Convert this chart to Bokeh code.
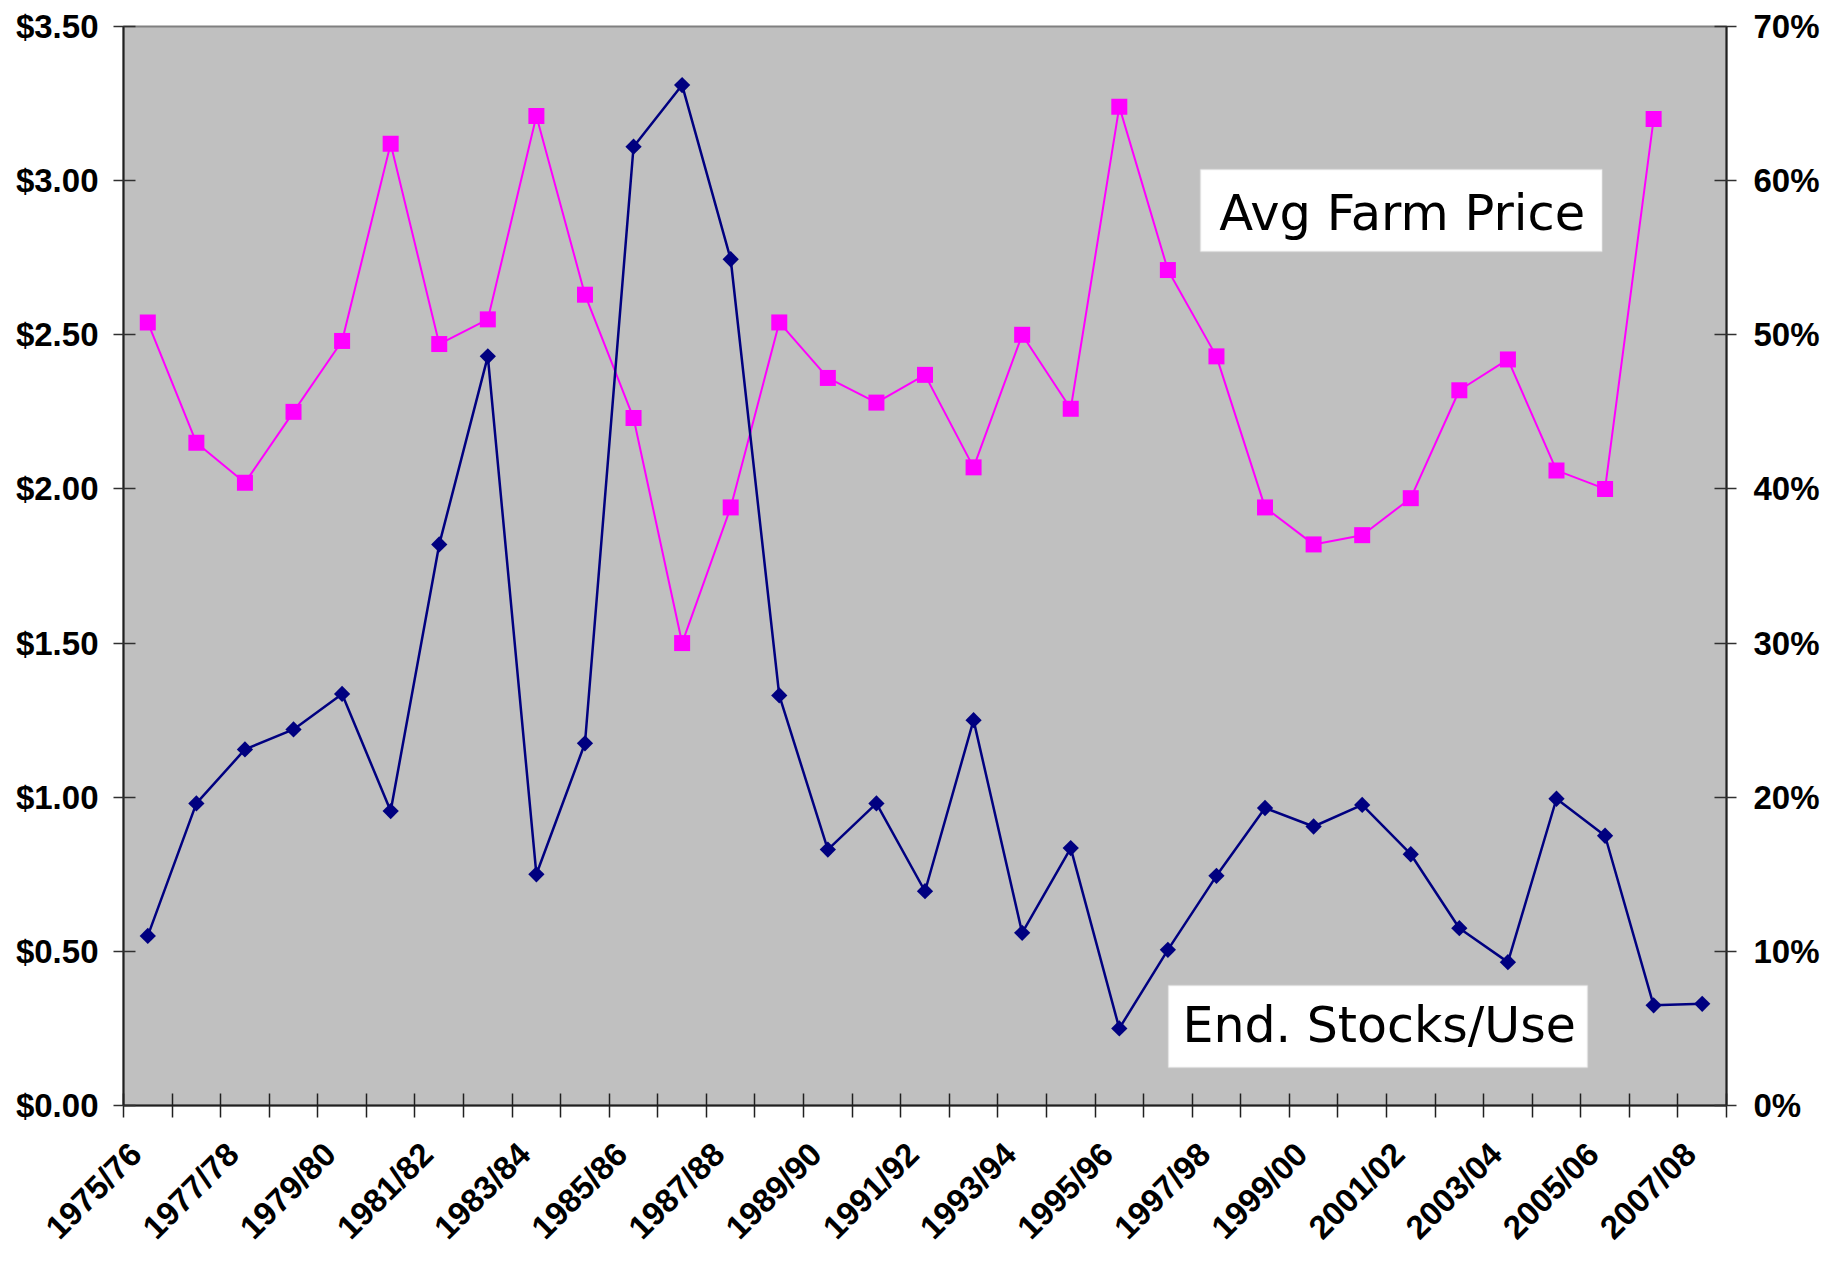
import math
from bokeh.plotting import figure
from bokeh.models import (Range1d, LinearAxis, FixedTicker, NumeralTickFormatter,
                          PrintfTickFormatter, BoxAnnotation, Label)
from bokeh.embed import file_html
from bokeh.resources import INLINE

# ---------------- data ----------------
seasons = ["1975/76", "1976/77", "1977/78", "1978/79", "1979/80", "1980/81", "1981/82",
           "1982/83", "1983/84", "1984/85", "1985/86", "1986/87", "1987/88", "1988/89",
           "1989/90", "1990/91", "1991/92", "1992/93", "1993/94", "1994/95", "1995/96",
           "1996/97", "1997/98", "1998/99", "1999/00", "2000/01", "2001/02", "2002/03",
           "2003/04", "2004/05", "2005/06", "2006/07", "2007/08"]

# Avg farm price, $/bu (1975/76 .. 2006/07)
avg_farm_price = [2.54, 2.15, 2.02, 2.25, 2.48, 3.12, 2.47, 2.55, 3.21, 2.63, 2.23,
                  1.50, 1.94, 2.54, 2.36, 2.28, 2.37, 2.07, 2.50, 2.26, 3.24, 2.71,
                  2.43, 1.94, 1.82, 1.85, 1.97, 2.32, 2.42, 2.06, 2.00, 3.20]

# Ending stocks / use, percent (1975/76 .. 2007/08)
stocks_to_use = [11.0, 19.6, 23.1, 24.4, 26.7, 19.1, 36.4, 48.6, 15.0, 23.5, 62.2,
                 66.2, 54.9, 26.6, 16.6, 19.6, 13.9, 25.0, 11.2, 16.7, 5.0, 10.1,
                 14.9, 19.3, 18.1, 19.5, 16.3, 11.5, 9.3, 19.9, 17.5, 6.5, 6.6]

price_ticks = [0.0, 0.5, 1.0, 1.5, 2.0, 2.5, 3.0, 3.5]
pct_ticks = [0, 10, 20, 30, 40, 50, 60, 70]
labelled_every = 2

# ---------------- figure ----------------
n = len(seasons)
p = figure(width=1826, height=1262,
           x_range=Range1d(-0.5, n - 0.5), y_range=Range1d(price_ticks[0], price_ticks[-1]),
           output_backend="svg", toolbar_location=None,
           min_border_left=123, min_border_right=100, min_border_top=26, min_border_bottom=157,
           background_fill_color="#C0C0C0", border_fill_color="white",
           outline_line_color="#808080", outline_line_width=2)
p.xgrid.visible = False
p.ygrid.visible = False

p.extra_y_ranges = {"pct": Range1d(pct_ticks[0], pct_ticks[-1])}

FONT = "Liberation Sans"

# left axis
ya = p.yaxis[0]
ya.ticker = FixedTicker(ticks=price_ticks)
ya.formatter = NumeralTickFormatter(format="$0.00")

# right axis
ra = LinearAxis(y_range_name="pct", ticker=FixedTicker(ticks=pct_ticks),
                formatter=PrintfTickFormatter(format="%d%%"))
p.add_layout(ra, "right")

for ax in (ya, ra):
    ax.axis_line_color = "#202020"
    ax.axis_line_width = 2
    ax.major_tick_in = 12
    ax.major_tick_out = 10
    ax.major_tick_line_color = "#303030"
    ax.major_tick_line_width = 1.5
    ax.minor_tick_line_color = None
    ax.major_label_text_font = FONT
    ax.major_label_text_font_style = "bold"
    ax.major_label_text_font_size = "33px"
    ax.major_label_text_color = "black"
ya.major_label_standoff = 15
ra.major_label_standoff = 17

# bottom axis: tick marks between categories, labels on every other season
xa = p.xaxis[0]
label_pos = [i - 0.25 for i in range(0, n, labelled_every)]
boundaries = [i - 0.5 for i in range(n + 1)]
xa.ticker = FixedTicker(ticks=label_pos, minor_ticks=boundaries)
xa.major_label_overrides = {pos: seasons[i] for pos, i in zip(label_pos, range(0, n, labelled_every))}
xa.major_label_orientation = math.pi / 4
xa.major_tick_in = 0
xa.major_tick_out = 0
xa.minor_tick_in = 12
xa.minor_tick_out = 12
xa.minor_tick_line_color = "#202020"
xa.minor_tick_line_width = 1.5
xa.axis_line_color = "#202020"
xa.axis_line_width = 2
xa.major_label_text_font = FONT
xa.major_label_text_font_style = "bold"
xa.major_label_text_font_size = "33px"
xa.major_label_text_line_height = 0.6
xa.major_label_text_color = "black"
xa.major_label_standoff = 31

# ---------------- series ----------------
x_price = list(range(len(avg_farm_price)))
x_stock = list(range(len(stocks_to_use)))

p.line(x_price, avg_farm_price, line_color="#FF00FF", line_width=2)
p.scatter(x_price, avg_farm_price, marker="square", size=16,
          fill_color="#FF00FF", line_color="#FF00FF", line_width=0)

p.line(x_stock, stocks_to_use, y_range_name="pct", line_color="#000080", line_width=2.5)
p.scatter(x_stock, stocks_to_use, y_range_name="pct", marker="square", angle=math.pi / 4,
          size=11.5, fill_color="#000080", line_color="#000080", line_width=0)

# ---------------- text boxes ----------------
box1 = BoxAnnotation(left=21.67, right=29.94, bottom=2.770, top=3.036,
                     fill_color="white", fill_alpha=1.0, line_color="#D9D9D9", line_width=2)
lab1 = Label(x=22.06, y=2.896, text="Avg Farm Price", text_font="DejaVu Sans",
             text_font_size="49.5px", text_color="black", text_baseline="alphabetic")
box2 = BoxAnnotation(left=21.01, right=29.64, bottom=0.123, top=0.389,
                     fill_color="white", fill_alpha=1.0, line_color="#D9D9D9", line_width=2)
lab2 = Label(x=21.30, y=0.259, text="End. Stocks/Use", text_font="DejaVu Sans",
             text_font_size="49px", text_color="black", text_baseline="alphabetic")
for a in (box1, lab1, box2, lab2):
    p.add_layout(a)

open("out.html", "w").write(file_html(p, INLINE))
